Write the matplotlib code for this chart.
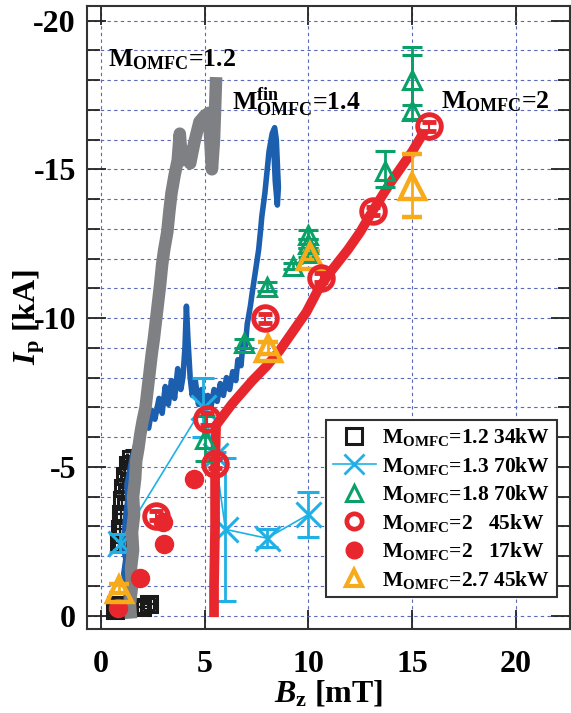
import matplotlib
matplotlib.use("Agg")
import matplotlib.pyplot as plt
from matplotlib.ticker import MultipleLocator, FixedLocator
from matplotlib.lines import Line2D

plt.rcParams['font.family'] = ['Liberation Serif', 'DejaVu Serif']
plt.rcParams['font.weight'] = 'bold'
plt.rcParams['axes.unicode_minus'] = False
plt.rcParams['mathtext.fontset'] = 'custom'
plt.rcParams['mathtext.rm'] = 'Liberation Serif:bold'
plt.rcParams['mathtext.bf'] = 'Liberation Serif:bold'
plt.rcParams['mathtext.it'] = 'Liberation Serif:italic:bold'

# ---------------- data ----------------
# M_OMFC = 1.2 trace (gray)
gray_x = [1.45, 1.40, 1.50, 1.45, 1.55, 1.50, 1.60, 1.55, 1.65, 1.70, 1.80, 1.90, 2.00, 2.15,
          2.25, 2.35, 2.45, 2.55, 2.65, 2.75, 2.85, 2.95, 3.05, 3.20, 3.30, 3.40, 3.55, 3.70,
          3.80, 3.90, 4.05, 4.30, 4.50, 4.75, 5.00, 5.20, 5.30, 5.35, 5.45, 5.50, 5.55]
gray_y = [0.10, -0.40, -1.00, -1.60, -2.20, -2.80, -3.40, -4.00, -4.60, -5.20, -5.60, -6.10, -6.50, -7.00,
          -7.60, -8.20, -8.80, -9.30, -9.90, -10.50, -11.10, -11.80, -12.30, -12.90, -13.60, -14.20, -14.80, -15.30,
          -16.20, -15.30, -15.60, -15.20, -15.90, -16.60, -16.80, -16.90, -15.60, -15.00, -16.00, -17.00, -18.10]

# M_OMFC^fin = 1.4 trace (blue)
blue_x = [1.30, 1.20, 1.25, 1.10, 1.20, 1.05, 1.15, 1.20, 1.30, 1.25, 1.40, 1.50, 1.70, 1.90, 2.10,
          2.30, 2.45, 2.60, 2.80, 2.95, 3.10, 3.25, 3.40, 3.55, 3.70, 3.85, 3.95, 4.05, 4.12, 4.20,
          4.30, 4.40, 4.55, 4.70, 4.85, 5.00, 5.15, 5.30, 5.45, 5.60, 5.75, 5.90, 6.05, 6.20, 6.35,
          6.50, 6.60, 6.75, 6.85, 6.95, 7.05, 7.20, 7.30, 7.45, 7.60, 7.70, 7.75, 7.90, 8.00, 8.10,
          8.25, 8.37, 8.45, 8.50, 8.55, 8.50, 8.40, 8.35, 8.30]
blue_y = [-0.10, -0.50, -1.00, -1.40, -1.90, -2.40, -2.90, -3.40, -3.90, -4.40, -4.90, -5.30, -5.80, -6.20, -6.50,
          -6.30, -6.90, -6.60, -7.30, -6.80, -7.70, -7.10, -7.90, -7.30, -8.30, -7.60, -8.00, -9.00, -10.40, -9.20,
          -8.00, -7.40, -7.90, -7.10, -7.60, -6.90, -7.40, -7.00, -7.60, -7.20, -7.80, -7.40, -8.00, -7.60, -8.20,
          -7.90, -8.60, -8.40, -9.20, -9.00, -9.80, -10.40, -10.90, -11.60, -12.30, -13.00, -13.40, -14.20, -14.90, -15.60,
          -16.20, -16.40, -16.00, -15.20, -14.40, -13.80, -14.60, -15.40, -15.90]

# M_OMFC = 2 trace (red)
red_x = [5.45, 5.45, 5.50, 5.50, 5.55, 6.30, 7.30, 8.00, 8.60, 9.30, 9.90, 10.50, 11.00, 11.90,
         12.50, 13.00, 13.90, 14.50, 15.00, 15.60]
red_y = [0.05, -1.00, -3.00, -5.00, -6.40, -7.10, -7.90, -8.40, -8.90, -9.60, -10.20, -11.00, -11.50, -12.30,
         -12.90, -13.50, -14.50, -15.10, -15.60, -16.30]

# M_OMFC=1.2 34kW (black squares)
sq_x = [0.70, 0.75, 0.85, 0.90, 0.95, 1.00, 1.05, 1.15, 1.30, 1.45, 2.00, 2.30]
sq_y = [-0.20, -0.35, -2.45, -2.90, -3.40, -3.90, -4.30, -4.70, -5.05, -5.25, -0.30, -0.40]
sq_xerr = [0.25, 0.25, 0.2, 0.2, 0.2, 0.2, 0.2, 0.2, 0.2, 0.2, 0.25, 0.25]
sq_yerr = [0.2, 0.2, 0.3, 0.3, 0.3, 0.3, 0.3, 0.3, 0.3, 0.3, 0.2, 0.2]

# M_OMFC=1.3 70kW (cyan x, connected)
cy_x = [0.90, 4.90, 5.50, 6.00, 8.00, 10.00]
cy_y = [-2.45, -7.00, -5.40, -2.90, -2.60, -3.40]
cy_err = [0.30, 1.00, 0.10, 2.40, 0.30, 0.75]

# M_OMFC=1.8 70kW (green triangles)
gr_x = [5.00, 6.90, 8.00, 9.25, 10.00, 10.00, 10.00, 13.70, 15.00, 15.00]
gr_y = [-5.95, -9.15, -11.05, -11.75, -12.20, -12.50, -12.80, -14.95, -16.95, -18.00]
gr_err_lo = [0.75, 0.15, 0.15, 0.10, 0.15, 0.15, 0.15, 0.65, 2.15, 0.85]
gr_err_hi = [0.75, 0.15, 0.15, 0.10, 0.15, 0.15, 0.15, 0.55, 0.25, 0.85]

# M_OMFC=2 45kW (red open circles)
rc_x = [2.65, 5.10, 5.50, 7.90, 10.60, 13.10, 15.80]
rc_y = [-3.35, -6.60, -5.10, -10.00, -11.35, -13.60, -16.45]
rc_err = [0.15, 0.20, 0.15, 0.15, 0.15, 0.15, 0.15]

# M_OMFC=2 17kW (red filled circles)
rf_x = [0.80, 1.90, 3.00, 3.05, 4.50]
rf_y = [-0.25, -1.25, -3.15, -2.40, -4.60]
rf_err = [0.15, 0.15, 0.15, 0.2, 0.15]

# M_OMFC=2.7 45kW (orange triangles)
or_x = [0.85, 8.05, 10.05, 15.00]
or_y = [-0.90, -9.00, -12.10, -14.45]
or_err = [0.15, 0.20, 0.15, 1.05]

legend_labels = [r"M$_{\rm OMFC}$=1.2 34kW",
                 r"M$_{\rm OMFC}$=1.3 70kW",
                 r"M$_{\rm OMFC}$=1.8 70kW",
                 r"M$_{\rm OMFC}$=2   45kW",
                 r"M$_{\rm OMFC}$=2   17kW",
                 r"M$_{\rm OMFC}$=2.7 45kW"]

x_ticks = [0, 5, 10, 15, 20]
y_ticks = [0, -5, -10, -15, -20]

# colours
C_GRAY = '#7f8083'
C_BLUE = '#1c5fae'
C_RED = '#e8262d'
C_CYAN = '#1fb1e6'
C_GREEN = '#0aa169'
C_ORANGE = '#f7ab1b'
C_BLACK = '#1a1a1a'

# ---------------- figure ----------------
fig = plt.figure(figsize=(5.71, 7.13), dpi=100)
ax = fig.add_axes([87/571, 1 - 629/713, (570 - 87)/571, (629 - 6)/713])
ax.set_xlim(-0.67, 22.6)
ax.set_ylim(0.45, -20.49)

# squares
ax.errorbar(sq_x, sq_y, xerr=sq_xerr, yerr=sq_yerr, fmt='s', ms=12, mfc='none', mec=C_BLACK,
            mew=2.2, ecolor=C_BLACK, elinewidth=1.6, capsize=4, capthick=1.6, zorder=2)

# blue trace
ax.plot(blue_x, blue_y, color=C_BLUE, lw=4.0, solid_joinstyle='round', zorder=3)
# cyan
ax.errorbar(cy_x, cy_y, yerr=cy_err, fmt='-x', color=C_CYAN, ms=18, mew=2.2, lw=1.2,
            elinewidth=2.0, capsize=8, capthick=2.0, zorder=3.5)
# gray trace
ax.plot(gray_x, gray_y, color=C_GRAY, lw=9, solid_joinstyle='round', solid_capstyle='butt', zorder=4)
# red trace
ax.plot(red_x, red_y, color=C_RED, lw=7, solid_joinstyle='round', solid_capstyle='butt', zorder=5)

# red filled
ax.errorbar(rf_x, rf_y, yerr=rf_err, fmt='o', ms=13, color=C_RED, ecolor=C_RED, elinewidth=1.5,
            capsize=4, zorder=6)
# green triangles
ax.errorbar(gr_x, gr_y, yerr=[gr_err_lo, gr_err_hi], fmt='^', ms=13, mfc='none', mec=C_GREEN,
            mew=2.2, ecolor=C_GREEN, elinewidth=2.0, capsize=7, capthick=2.0, zorder=7)
# orange triangles
ax.errorbar(or_x, or_y, yerr=or_err, fmt='^', ms=18, mfc='none', mec=C_ORANGE,
            mew=3.2, ecolor=C_ORANGE, elinewidth=2.0, capsize=7, capthick=2.0, zorder=7)
# red open circles
ax.errorbar(rc_x, rc_y, yerr=rc_err, fmt='o', ms=17, mfc='none', mec=C_RED,
            mew=3.5, ecolor=C_RED, elinewidth=1.5, capsize=5, capthick=1.5, zorder=8)

# annotations
ax.text(0.34, -18.47, r"M$_{\rm OMFC}$=1.2", fontsize=18.5, fontweight='bold', ha='left', va='baseline', zorder=10)
ax.text(6.3, -17.0, r"M$_{\rm OMFC}^{\rm fin}$=1.4", fontsize=18.5, fontweight='bold', ha='left', va='baseline', zorder=10)
ax.text(16.4, -17.06, r"M$_{\rm OMFC}$=2", fontsize=18.5, fontweight='bold', ha='left', va='baseline', zorder=10)

# ticks & grid
ax.xaxis.set_major_locator(FixedLocator(x_ticks))
ax.yaxis.set_major_locator(FixedLocator(y_ticks))
ax.yaxis.set_minor_locator(MultipleLocator(1))
ax.set_xticklabels([str(v) for v in x_ticks])
ax.set_yticklabels([str(v) for v in y_ticks])
ax.tick_params(which='both', direction='in', top=True, right=True, labelsize=23, width=1.3, color='#222222')
ax.tick_params(which='major', length=14)
ax.tick_params(which='minor', length=9)
ax.tick_params(axis='x', pad=15)
ax.tick_params(axis='y', pad=8)
for lab in ax.get_xticklabels() + ax.get_yticklabels():
    lab.set_fontweight('bold')

ax.grid(True, which='major', axis='x', ls=(0, (3, 3)), color='#5a68b8', lw=0.8)
ax.grid(True, which='both', axis='y', ls=(0, (3, 3)), color='#5a68b8', lw=0.8)
ax.set_axisbelow(True)
for s in ax.spines.values():
    s.set_linewidth(1.5)
    s.set_color('#333333')

ax.set_xlabel(r"$B_{\rm z}$ [mT]", fontsize=23, fontweight='bold', labelpad=0)
ax.set_ylabel(r"$I_{\rm p}$ [kA]", fontsize=23, fontweight='bold', labelpad=-10)

# legend
handles = [
    Line2D([], [], ls='none', marker='s', ms=11, mfc='none', mec=C_BLACK, mew=2.2),
    Line2D([], [], ls='-', marker='x', ms=14, color=C_CYAN, mew=2, lw=1.2),
    Line2D([], [], ls='none', marker='^', ms=11, mfc='none', mec=C_GREEN, mew=2.2),
    Line2D([], [], ls='none', marker='o', ms=11, mfc='none', mec=C_RED, mew=3.4),
    Line2D([], [], ls='none', marker='o', ms=12, color=C_RED),
    Line2D([], [], ls='none', marker='^', ms=11, mfc='none', mec=C_ORANGE, mew=3.0),
]
leg = ax.legend(handles, legend_labels, loc='lower right', bbox_to_anchor=(0.973, 0.051),
                borderaxespad=0, fancybox=False, framealpha=1, edgecolor='#333333',
                prop={'family': 'Liberation Serif', 'weight': 'bold', 'size': 15.5},
                handlelength=2.0, handletextpad=0.3, labelspacing=0.3, borderpad=0.3)
leg.get_frame().set_linewidth(1.5)
leg.set_zorder(20)

fig.savefig("out.png", dpi=100)
